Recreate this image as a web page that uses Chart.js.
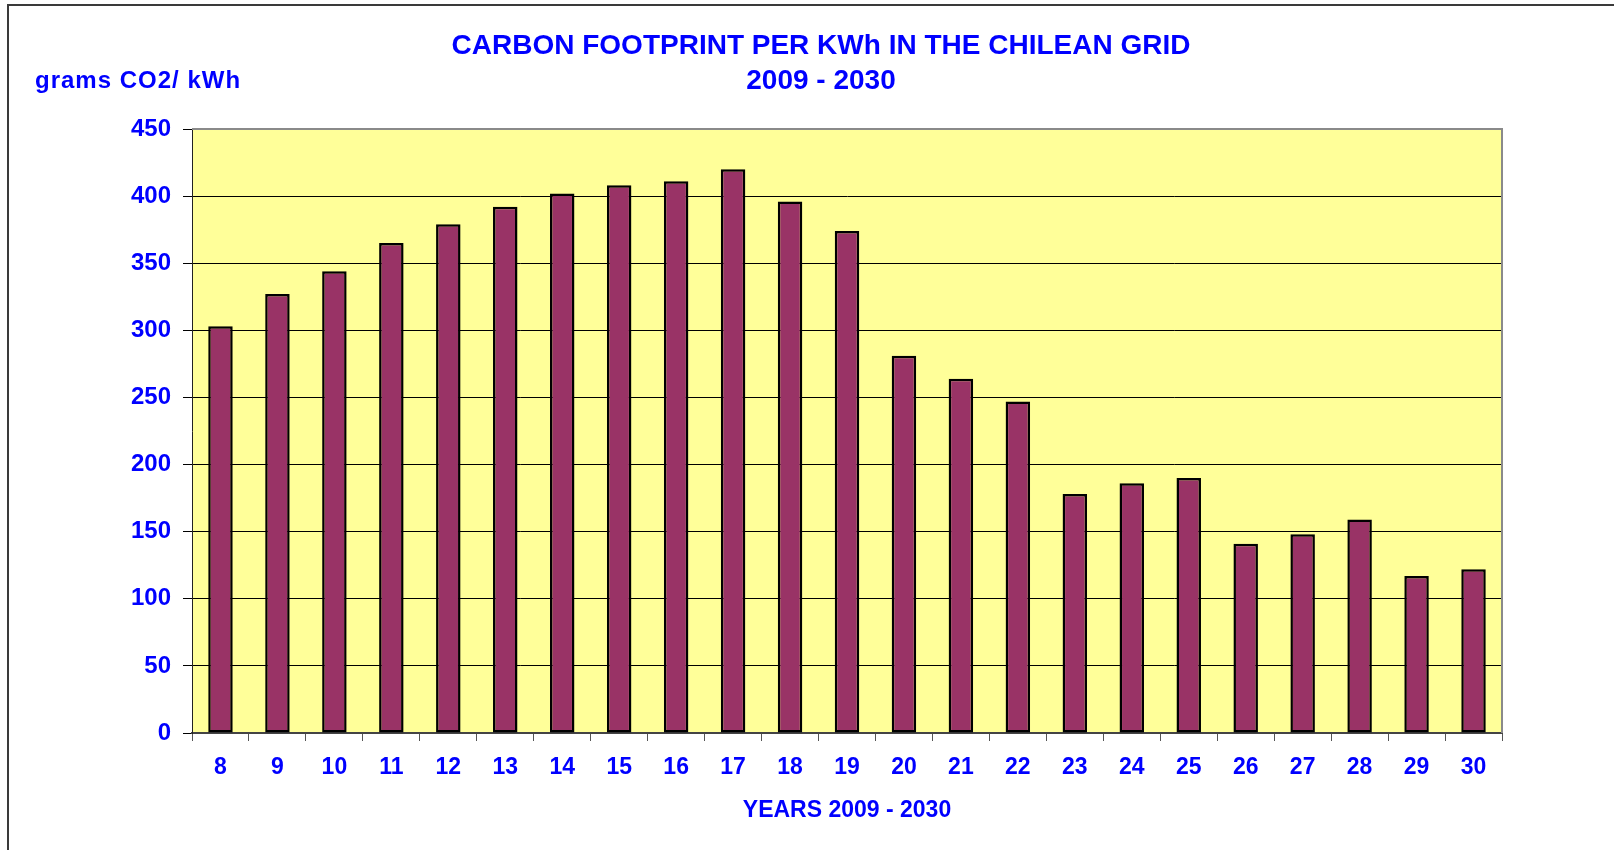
<!DOCTYPE html>
<html>
<head>
<meta charset="utf-8">
<title>Carbon footprint per kWh in the Chilean grid</title>
<script src="https://cdn.jsdelivr.net/npm/chart.js@4.4.1/dist/chart.umd.min.js"></script>
<style>
  html, body { margin: 0; padding: 0; background: #ffffff; }
  #carbonChart { display: block; }
</style>
</head>
<body>
<canvas id="carbonChart" width="1614" height="850"></canvas>
<script>
// years shown as 8 .. 30 (2008 - 2030)
const yearLabels = ["8", "9", "10", "11", "12", "13", "14", "15", "16", "17", "18", "19",
  "20", "21", "22", "23", "24", "25", "26", "27", "28", "29", "30"];

// grams CO2 per kWh
const gramsPerKwh = [303, 327, 344, 365, 379, 392, 402, 408, 411, 420, 396, 374,
  281, 264, 247, 178, 186, 190, 141, 148, 159, 117, 122];

const yTicks = [0, 50, 100, 150, 200, 250, 300, 350, 400, 450];

const titleLines = ["CARBON FOOTPRINT PER KWh IN THE CHILEAN GRID", "2009 - 2030"];
const unitLabel = "grams CO2/ kWh";
const xTitle = "YEARS 2009 - 2030";

const BLUE = "#0000ff";
const FONT = "'Liberation Sans', Arial, sans-serif";

// yellow plot area, grey top/right edge, outer frame and the texts
const decorations = {
  id: "decorations",
  beforeDraw(chart) {
    const { ctx, chartArea: a } = chart;
    ctx.save();
    ctx.fillStyle = "#ffff99";
    ctx.fillRect(a.left, a.top, a.right - a.left, a.bottom - a.top);
    ctx.restore();
  },
  afterDraw(chart) {
    const { ctx, chartArea: a } = chart;
    ctx.save();
    ctx.strokeStyle = "#8a8a8a";
    ctx.lineWidth = 2;
    ctx.beginPath();
    ctx.moveTo(a.left, a.top);
    ctx.lineTo(a.right, a.top);
    ctx.lineTo(a.right, a.bottom);
    ctx.stroke();

    // outer frame (right and bottom fall outside the picture)
    ctx.strokeStyle = "#3a3a3a";
    ctx.lineWidth = 2;
    ctx.beginPath();
    ctx.moveTo(8, 900);
    ctx.lineTo(8, 5);
    ctx.lineTo(1700, 5);
    ctx.stroke();

    ctx.fillStyle = BLUE;
    ctx.textAlign = "center";
    ctx.textBaseline = "middle";
    ctx.font = "bold 28px " + FONT;
    ctx.fillText(titleLines[0], 821, 46);
    ctx.fillText(titleLines[1], 821, 81);

    ctx.textAlign = "left";
    ctx.font = "bold 24px " + FONT;
    ctx.letterSpacing = "1px";
    ctx.fillText(unitLabel, 35, 81);
    ctx.restore();
  },
};

function renderChart() {
  const ctx = document.getElementById("carbonChart").getContext("2d");

  new Chart(ctx, {
    type: "bar",
    data: {
      labels: yearLabels,
      datasets: [
        {
          data: gramsPerKwh,
          backgroundColor: "#993366",
          borderColor: "#000000",
          borderWidth: 2.5,
          borderSkipped: false,
          categoryPercentage: 1.0,
          barPercentage: 0.43,
        },
      ],
    },
    options: {
      responsive: false,
      animation: false,
      layout: {
        padding: { top: 129, right: 112, bottom: 0, left: 0 },
      },
      scales: {
        x: {
          offset: true,
          grid: {
            offset: true,
            drawOnChartArea: false,
            drawTicks: true,
            tickLength: 8,
            color: "#555555",
            lineWidth: 1,
          },
          border: { color: "#444444", width: 2 },
          ticks: {
            color: BLUE,
            padding: 13,
            maxRotation: 0,
            autoSkip: false,
            font: { family: FONT, size: 23, weight: "bold" },
          },
          title: {
            display: true,
            text: xTitle,
            color: BLUE,
            padding: { top: 0, bottom: 26 },
            font: { family: FONT, size: 23, weight: "bold" },
          },
          afterFit(scale) {
            scale.height = 117;
          },
        },
        y: {
          min: 0,
          max: 450,
          afterBuildTicks(scale) {
            scale.ticks = yTicks.map((v) => ({ value: v }));
          },
          grid: {
            color: "#000000",
            lineWidth: 1,
            drawTicks: true,
            tickLength: 9,
          },
          border: { color: "#222222", width: 1 },
          ticks: {
            color: BLUE,
            padding: 12,
            font: { family: FONT, size: 24, weight: "bold" },
          },
          afterFit(scale) {
            scale.width = 192;
          },
        },
      },
      plugins: {
        legend: { display: false },
        title: { display: false },
        tooltip: { enabled: false },
      },
    },
    plugins: [decorations],
  });
}

renderChart();
</script>
</body>
</html>
